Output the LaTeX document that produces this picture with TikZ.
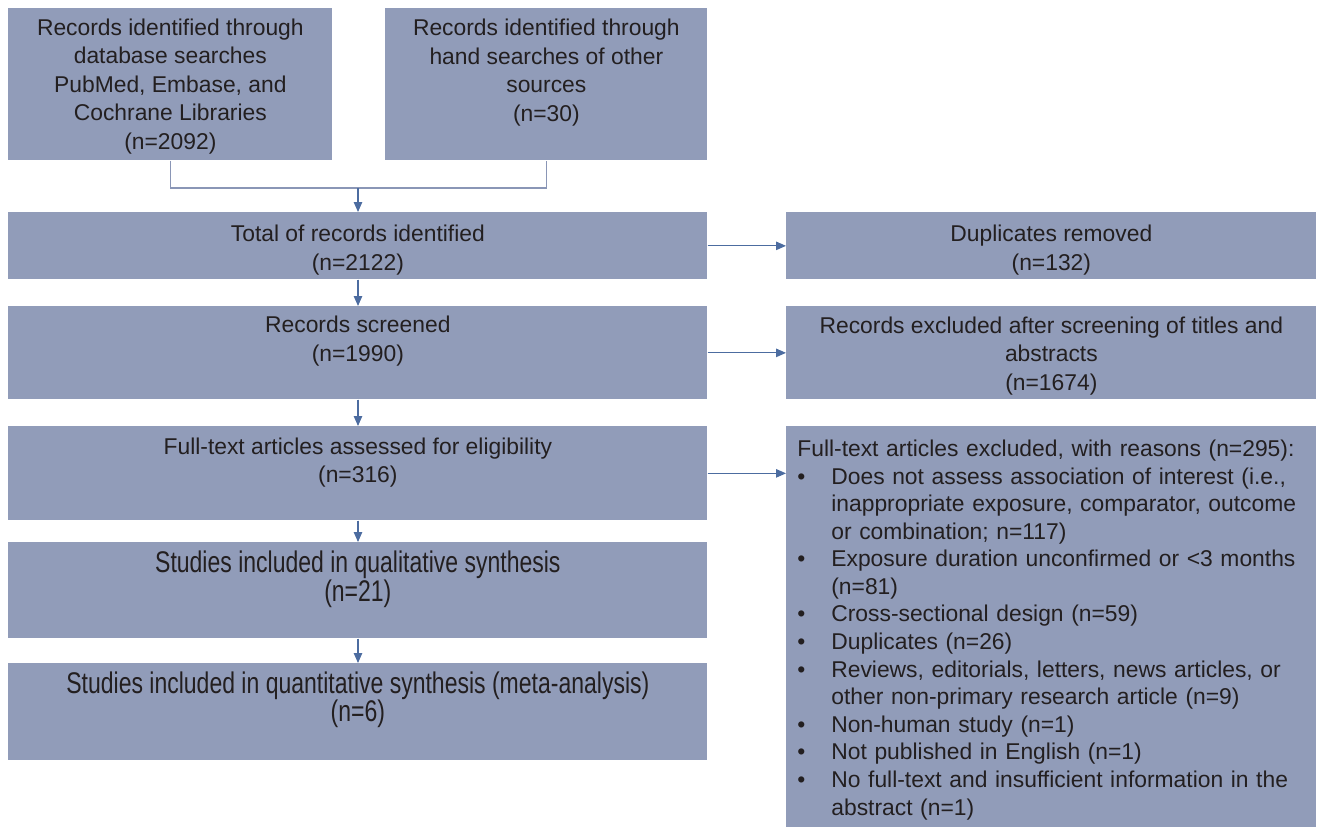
\documentclass[tikz,border=0pt]{standalone}
\usepackage{fontspec}
\setmainfont{Liberation Sans}
\newfontfamily\narrowsf[FakeStretch=0.77]{Liberation Sans}
\usetikzlibrary{arrows.meta}
\definecolor{boxfill}{RGB}{145,156,185}
\definecolor{boxtext}{RGB}{35,31,32}
\definecolor{arrowblue}{RGB}{76,108,160}
\definecolor{elbowgray}{RGB}{138,150,182}
\newcommand{\topgap}[1][5mm]{\rule{0pt}{#1}}
\newcommand{\exitem}[1]{\par\hangindent=0.68cm\hangafter=1\noindent\makebox[0.68cm][l]{\textbullet}#1}
\begin{document}
\begin{tikzpicture}[>={Triangle[length=2mm,width=1.7mm]},
    box/.style={fill=boxfill,text=boxtext,align=center,inner sep=0pt,anchor=north west,
      font=\fontsize{13}{16.2}\selectfont},
    narrowbox/.style={box,font=\narrowsf\fontsize{17}{16.2}\selectfont},
    arr/.style={->,draw=arrowblue,fill=arrowblue,line width=0.6pt}]
    \useasboundingbox (0,0) rectangle (26.36,-16.54);
    % identification
    \node[box,minimum width=6.48cm,minimum height=3.04cm] (dbsearch) at (0.16,-0.16)
      {\topgap[4.1mm]Records identified through\\database searches\\PubMed, Embase, and\\Cochrane Libraries\\(n=2092)};
    \node[box,minimum width=6.44cm,minimum height=3.04cm] (handsearch) at (7.70,-0.16)
      {\topgap Records identified through\\hand searches of other\\sources\\(n=30)\\\strut};
    \node[box,minimum width=13.98cm,minimum height=1.34cm] (total) at (0.16,-4.24)
      {\topgap Total of records identified\\(n=2122)};
    \node[box,minimum width=10.60cm,minimum height=1.34cm] (dupl) at (15.72,-4.24)
      {\topgap Duplicates removed\\(n=132)};
    % screening
    \node[box,minimum width=13.98cm,minimum height=1.86cm] (screened) at (0.16,-6.12)
      {\topgap Records screened\\(n=1990)\\\strut};
    \node[box,minimum width=10.60cm,minimum height=1.86cm] (excl) at (15.72,-6.12)
      {\topgap[4.6mm]Records excluded after screening of titles and\\abstracts\\(n=1674)};
    % eligibility
    \node[box,minimum width=13.98cm,minimum height=1.88cm] (fulltext) at (0.16,-8.52)
      {\topgap[5.4mm]Full-text articles assessed for eligibility\\(n=316)\\\strut};
    \node[box,align=left,text width=10.16cm,inner xsep=0.22cm,minimum height=8.02cm,
      font=\fontsize{13}{15.7}\selectfont] (ftexcl) at (15.72,-8.52)
      {\noindent\topgap[4.5mm]Full-text articles excluded, with reasons (n=295):
       \exitem{Does not assess association of interest (i.e.,\newline inappropriate exposure, comparator, outcome\newline or combination; n=117)}
       \exitem{Exposure duration unconfirmed or {<}3 months\newline (n=81)}
       \exitem{Cross-sectional design (n=59)}
       \exitem{Duplicates (n=26)}
       \exitem{Reviews, editorials, letters, news articles, or\newline other non-primary research article (n=9)}
       \exitem{Non-human study (n=1)}
       \exitem{Not published in English (n=1)}
       \exitem{No full-text and insufficient information in the\newline abstract (n=1)}\par};
    % included
    \node[narrowbox,minimum width=13.98cm,minimum height=1.92cm] (qual) at (0.16,-10.84)
      {\topgap[6mm]Studies included in qualitative synthesis\\(n=21)\\\strut};
    \node[narrowbox,minimum width=13.98cm,minimum height=1.94cm] (quant) at (0.16,-13.26)
      {\topgap[5.6mm]Studies included in quantitative synthesis (meta-analysis)\\(n=6)\\\strut};
    % connectors
    \coordinate (join) at (7.16,-3.76);
    \draw[elbowgray,line width=0.6pt] (dbsearch.south) |- (join) -| (handsearch.south);
    \draw[arr] (join) -- (total.north -| join);
    \draw[arr] (total.south -| join) -- (screened.north -| join);
    \draw[arr] (screened.south -| join) -- (fulltext.north -| join);
    \draw[arr] (fulltext.south -| join) -- (qual.north -| join);
    \draw[arr] (qual.south -| join) -- (quant.north -| join);
    \draw[arr] (total.east) -- (dupl.west);
    \draw[arr] (screened.east) -- (excl.west);
    \draw[arr] (fulltext.east) -- (fulltext.east -| ftexcl.west);
  \end{tikzpicture}
\end{document}
